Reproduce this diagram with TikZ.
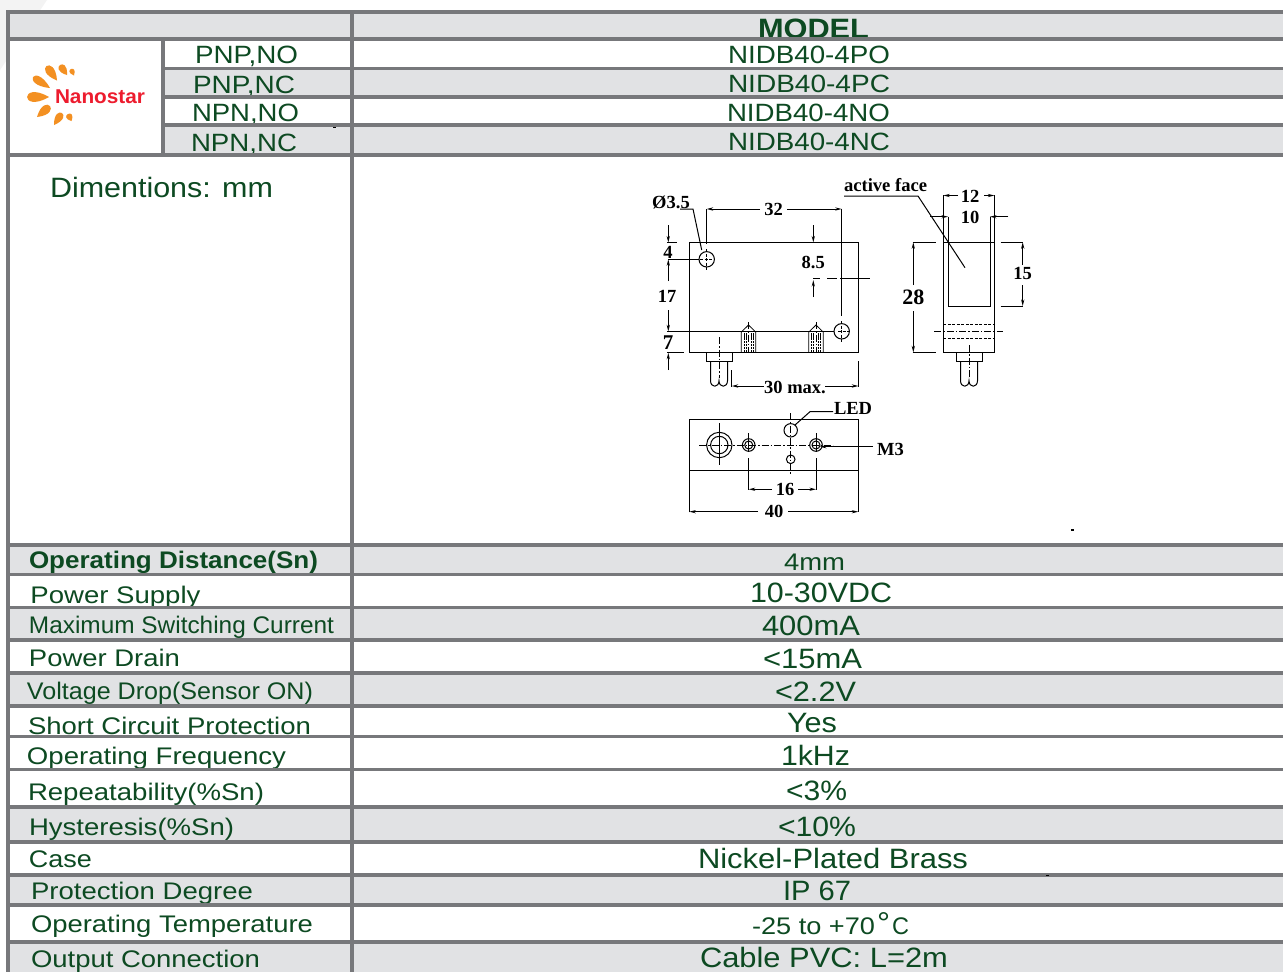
\documentclass[tikz,border=0pt]{standalone}
\usepackage{fontspec}
\usepackage{graphicx}
\setmainfont{Liberation Sans}
\newfontfamily\dimfont{Liberation Serif}[Scale=1]
\usetikzlibrary{arrows.meta,calc}
\definecolor{rulegray}{HTML}{77787B}
\definecolor{bandgray}{HTML}{E1E2E4}
\definecolor{txtgreen}{HTML}{0D4A22}
\definecolor{petalor}{HTML}{F39022}
\definecolor{logored}{HTML}{ED1C2E}
\definecolor{wedgegray}{HTML}{F3F3F3}
\tikzset{
  x=1pt,y=-1pt,
  lab/.style={inner sep=0pt,outer sep=0pt,anchor=base west,text=txtgreen,yshift=-0.7pt},
  band/.style={draw=none},
  rulef/.style={draw=rulegray,line width=3.2pt},
  dl/.style={draw=black,line width=1pt},
  dthin/.style={draw=black,line width=0.8pt},
  da/.style={draw=black,line width=1pt,-{Stealth[length=6.5pt,width=3.2pt]}},
  cl/.style={draw=black,line width=0.7pt,dash pattern=on 7pt off 2pt on 1.5pt off 2pt},
  hid/.style={draw=black,line width=0.8pt,dash pattern=on 3pt off 1.5pt},
  dimt/.style={inner sep=0pt,outer sep=0pt,text=black,font=\dimfont\bfseries\fontsize{18.5}{19}\selectfont},
}
\newcommand{\rowband}[4]{\fill[band,#4] (#1,#2) rectangle (1283,#3);}
% name, x, baseline y, width, font size, text
\newcommand{\sttxt}[6]{\node[lab] (#1) at (#2,#3) {\resizebox{#4pt}{\height}{\fontsize{#5}{#5}\selectfont #6}};}
\newcommand{\stbold}[6]{\node[lab] (#1) at (#2,#3) {\resizebox{#4pt}{\height}{\fontsize{#5}{#5}\selectfont\bfseries #6}};}
\newcommand{\petal}[5]{%
  \coordinate (pm) at ($(#3,#4)!1.33!(#1,#2)$);
  \coordinate (pa) at ($(pm)!#5pt!90:(#3,#4)$);
  \coordinate (pb) at ($(pm)!#5pt!-90:(#3,#4)$);
  \fill[petalor] (#3,#4) .. controls (pa) and (pb) .. (#3,#4);}
\newcommand{\glandtube}[1]{%
  \draw[dl] (#1-13,352.3) rectangle (#1+13,361);
  \draw[dl] (#1-8.5,361) -- (#1-8.5,380.7) .. controls (#1-8.5,388) and (#1,388) .. (#1,380.7) .. controls (#1,388) and (#1+8.5,388) .. (#1+8.5,380.7) -- (#1+8.5,361);
}
\newcommand{\thread}[1]{%
  \draw[dthin] (#1-7.2,352.3) -- (#1-7.2,332) -- (#1,325) -- (#1+7.2,332) -- (#1+7.2,352.3);
  \foreach \dx in {-4.5,-2.5,2.5,4.5}{\draw[draw=black,line width=0.9pt,dash pattern=on 2.5pt off 0.6pt] (#1+\dx,352.3) -- (#1+\dx,333);}
  \draw[cl] (#1,322) -- (#1,352.3);
}
\begin{document}
\begin{tikzpicture}
\useasboundingbox (0,0) rectangle (1283,972);
\clip (0,0) rectangle (1283,972);
\fill[white] (0,0) rectangle (1283,972);
\fill[wedgegray] (0,0) -- (47,0) -- (0,70) -- cycle;
% ---- rows painted top-down so that each row hides what overflows the previous one
\rowband{8}{12}{39}{bandgray}
\stbold{tmodel}{758}{38}{111}{28}{MODEL}
\rowband{8}{39}{68}{white}
\sttxt{t1a}{195}{63}{103}{25}{PNP,NO}
\sttxt{t1b}{728}{63}{162}{25}{NIDB40-4PO}
\rowband{163}{68}{97}{bandgray}
\sttxt{t2a}{193}{93}{102}{25}{PNP,NC}
\sttxt{t2b}{728}{92}{162}{25}{NIDB40-4PC}
\rowband{163}{97}{125}{white}
\sttxt{t3a}{192}{121}{107}{25}{NPN,NO}
\sttxt{t3b}{727}{121}{163}{25}{NIDB40-4NO}
\rowband{163}{125}{155}{bandgray}
\sttxt{t4a}{191}{151}{106}{25}{NPN,NC}
\sttxt{t4b}{728}{150}{162}{25}{NIDB40-4NC}
\rowband{8}{155}{545}{white}
\sttxt{tdim}{50}{197}{223}{28}{Dimentions: mm}
\rowband{8}{545}{574}{bandgray}
\stbold{l1}{29}{568}{289}{24}{Operating Distance(Sn)}
\sttxt{r1}{784}{570}{61}{24}{4mm}
\rowband{8}{574}{607}{white}
\sttxt{l2}{30.5}{603}{170}{24}{Power Supply}
\sttxt{r2}{750}{602}{142}{28}{10-30VDC}
\rowband{8}{607}{640}{bandgray}
\sttxt{l3}{29}{633}{305}{24}{Maximum Switching Current}
\sttxt{r3}{762}{635}{98}{28}{400mA}
\rowband{8}{640}{673}{white}
\sttxt{l4}{29}{666}{151}{24}{Power Drain}
\sttxt{r4}{763}{668}{99}{28}{<15mA}
\rowband{8}{673}{706}{bandgray}
\sttxt{l5}{27}{699}{286}{24}{Voltage Drop(Sensor ON)}
\sttxt{r5}{775}{701}{81}{28}{<2.2V}
\rowband{8}{706}{737}{white}
\sttxt{l6}{28}{734}{283}{24}{Short Circuit Protection}
\sttxt{r6}{787}{732}{50}{28}{Yes}
\rowband{8}{737}{769}{white}
\sttxt{l7}{27}{764}{259}{24}{Operating Frequency}
\sttxt{r7}{781}{765}{69}{28}{1kHz}
\rowband{8}{769}{807}{white}
\sttxt{l8}{28}{800}{236}{24}{Repeatability(\%Sn)}
\sttxt{r8}{786}{800}{61}{28}{<3\%}
\rowband{8}{807}{842}{bandgray}
\sttxt{l9}{29}{835}{205}{24}{Hysteresis(\%Sn)}
\sttxt{r9}{778}{836}{78}{28}{<10\%}
\rowband{8}{842}{875}{white}
\sttxt{l10}{29}{867}{63}{24}{Case}
\sttxt{r10}{698}{868}{270}{28}{Nickel-Plated Brass}
\rowband{8}{875}{905}{bandgray}
\sttxt{l11}{31}{899}{222}{24}{Protection Degree}
\sttxt{r11}{783}{900}{68}{28}{IP 67}
\rowband{8}{905}{942}{white}
\sttxt{l12}{31}{932}{282}{24}{Operating Temperature}
\sttxt{r12a}{752}{934}{123}{24}{-25 to +70}
\sttxt{r12b}{877}{933}{13}{30}{°}
\sttxt{r12c}{892}{934}{17}{24}{C}
\rowband{8}{942}{972}{bandgray}
\sttxt{l13}{31}{967}{229}{24}{Output Connection}
\sttxt{r13}{700}{967}{248}{28}{Cable PVC: L=2m}
% ---- logo
\petal{46.5}{66}{57}{80.5}{15}
\petal{60}{65}{67}{75}{13}
\petal{71}{69}{74}{75.5}{9}
\petal{33}{77}{50}{88}{14}
\petal{27}{97}{49}{97}{17}
\petal{50}{106}{37}{117}{15}
\petal{62}{113}{54}{125}{13}
\petal{68}{114}{71.5}{121}{11}
\node[inner sep=0pt,outer sep=0pt,anchor=base west,text=logored] (tlogo) at (55,103) {\resizebox{90pt}{\height}{\fontsize{20}{20}\selectfont\bfseries Nanostar}};
% ---- table rules
\foreach \yy in {12,39,155,545,574.5,607.5,640,673,706,736.5,769.5,807,842,875,905,942}{\draw[rulef] (6.4,\yy) -- (1283,\yy);}
\foreach \yy in {68.5,97,125}{\draw[rulef] (163,\yy) -- (1283,\yy);}
\draw[rulef] (8,10.4) -- (8,972);
\draw[rulef] (352,10.4) -- (352,972);
\draw[rulef] (163,39) -- (163,155);
% ---- specks
\fill[black] (1071,529) rectangle (1074,531);
\fill[black] (1046,875) rectangle (1049,876);
\fill[black] (333,126.5) rectangle (336,127.5);
% ---- front view
\draw[dl] (689.5,242.5) rectangle (858,352.3);
\draw[draw=black,line width=1.6pt] (815,242.5) -- (850,242.5);
\draw[dl] (706.7,259.3) circle[radius=7.7];
\draw[dl] (841.7,331.3) circle[radius=7.7];
\draw[hid] (706.7,249) -- (706.7,270);
\draw[hid] (700,259.3) -- (714,259.3);
\draw[hid] (841.7,321) -- (841.7,342);
\draw[hid] (838,331.3) -- (850,331.3);
\draw[dl] (667,331.3) -- (834,331.3);
\draw[dl] (668,259.3) -- (699,259.3);
\draw[dl] (667,242.5) -- (677,242.5);
\draw[dl] (667,352.3) -- (684,352.3);
\draw[da] (668.3,225) -- (668.3,242.5);
\draw[da] (668.3,281) -- (668.3,259.3);
\draw[da] (668.3,310) -- (668.3,331.3);
\draw[da] (668.3,370) -- (668.3,352.8);
\node[dimt] (d4) at (668,252) {4};
\node[dimt] (d17) at (667,296) {17};
\node[dimt] (d7) at (668,343) {\fontsize{21}{21}\selectfont 7};
\node[dimt] (dphi) at (671,202) {Ø3.5};
\draw[dl] (680,209) -- (693,209) -- (701.7,250);
\draw[dl] (706.7,209) -- (706.7,244);
\draw[dl] (841.7,209) -- (841.7,316);
\draw[da] (760,209) -- (706.7,209);
\draw[da] (787,209) -- (841.7,209);
\node[dimt] (d32) at (773.5,209.5) {32};
\draw[da] (813.3,225) -- (813.3,242.5);
\node[dimt] (d85) at (813.3,262) {8.5};
\draw[da] (813.3,297) -- (813.3,280);
\draw[dl] (813.3,278.5) -- (820,278.5);
\draw[dl] (827,278.5) -- (837,278.5);
\draw[dl] (840,278.5) -- (870,278.5);
\thread{748.5}
\thread{816}
\glandtube{719}
\draw[cl] (719,337) -- (719,378);
\draw[dl] (731.7,370) -- (731.7,386.7);
\draw[dl] (858.3,361) -- (858.3,386.7);
\draw[da] (764,386) -- (731.7,386);
\draw[da] (825,386) -- (858.3,386);
\node[dimt] (d30) at (795,387) {30 max.};
% ---- side view
\draw[dl] (943.3,242.3) rectangle (994.3,352.3);
\draw[dl] (948,242.3) -- (948,306) -- (990,306) -- (990,242.3);
\draw[hid] (943.3,324) -- (994.3,324);
\draw[hid] (943.3,338.7) -- (994.3,338.7);
\draw[cl] (934.3,331.3) -- (1002.7,331.3);
\glandtube{969}
\draw[cl] (969,345) -- (969,378);
\draw[dl] (943.3,195) -- (943.3,242);
\draw[dl] (994.3,195) -- (994.3,242);
\draw[dl] (948,216.7) -- (948,242);
\draw[dl] (990,216.7) -- (990,242);
\draw[da] (958,195.5) -- (943.3,195.5);
\draw[da] (984,195.5) -- (994.3,195.5);
\node[dimt] (d12) at (970,196) {12};
\draw[da] (930,216.7) -- (948,216.7);
\draw[da] (1008.3,216.7) -- (990,216.7);
\node[dimt] (d10) at (970,217) {10};
\draw[dl] (912.7,242.3) -- (935.7,242.3);
\draw[dl] (912.7,352.3) -- (935.7,352.3);
\draw[da] (913.3,285) -- (913.3,242.3);
\draw[da] (913.3,311) -- (913.3,352.3);
\node[dimt,font=\dimfont\bfseries\fontsize{22}{22}\selectfont] (d28) at (913.3,297) {28};
\draw[dl] (1000.7,242.3) -- (1023.3,242.3);
\draw[dl] (1000.7,306) -- (1023.3,306);
\draw[da] (1022.7,265) -- (1022.7,242.3);
\draw[da] (1022.7,285) -- (1022.7,306);
\node[dimt] (d15) at (1022.7,273) {15};
\node[dimt,anchor=base west,font=\dimfont\bfseries\fontsize{18.6}{19}\selectfont] (dact) at (844,191) {active face};
\draw[dl] (844,196) -- (918,196) -- (965,267.7);
% ---- bottom view
\draw[dl] (689.3,512.3) -- (689.3,419.3) -- (858.3,419.3) -- (858.3,512.3);
\draw[dl] (689.3,470.3) -- (858.3,470.3);
\draw[dl] (719.3,445) circle[radius=12.7];
\draw[dl] (719.3,445) circle[radius=8.7];
\draw[dthin] (719.3,423) -- (719.3,465);
\draw[cl] (699,445) -- (833,445);
\foreach \hx in {748.7,816}{
  \draw[dl] (\hx,445) circle[radius=6.3];
  \draw[dl] (\hx,445) circle[radius=4];
  \draw[dthin] (\hx,433) -- (\hx,452);
  \draw[dl] (\hx,458) -- (\hx,490);
}
\draw[dl] (790.7,430.3) circle[radius=6.7];
\draw[dl] (790.7,459.3) circle[radius=4.3];
\draw[cl] (790.7,413) -- (790.7,475);
\draw[da] (772,489.3) -- (748.7,489.3);
\draw[da] (798,489.3) -- (816,489.3);
\node[dimt] (d16) at (785,489.5) {16};
\draw[da] (758,511.7) -- (689.3,511.7);
\draw[da] (788,511.7) -- (858.3,511.7);
\node[dimt] (d40) at (774,511.7) {40};
\node[dimt,anchor=base west] (dled) at (834,414) {LED};
\draw[dl] (833,411.7) -- (810,411.7) -- (795,425);
\node[dimt] (dm3) at (890.5,449) {M3};
\draw[da] (873,446.7) -- (820,446.7);
\end{tikzpicture}
\end{document}
